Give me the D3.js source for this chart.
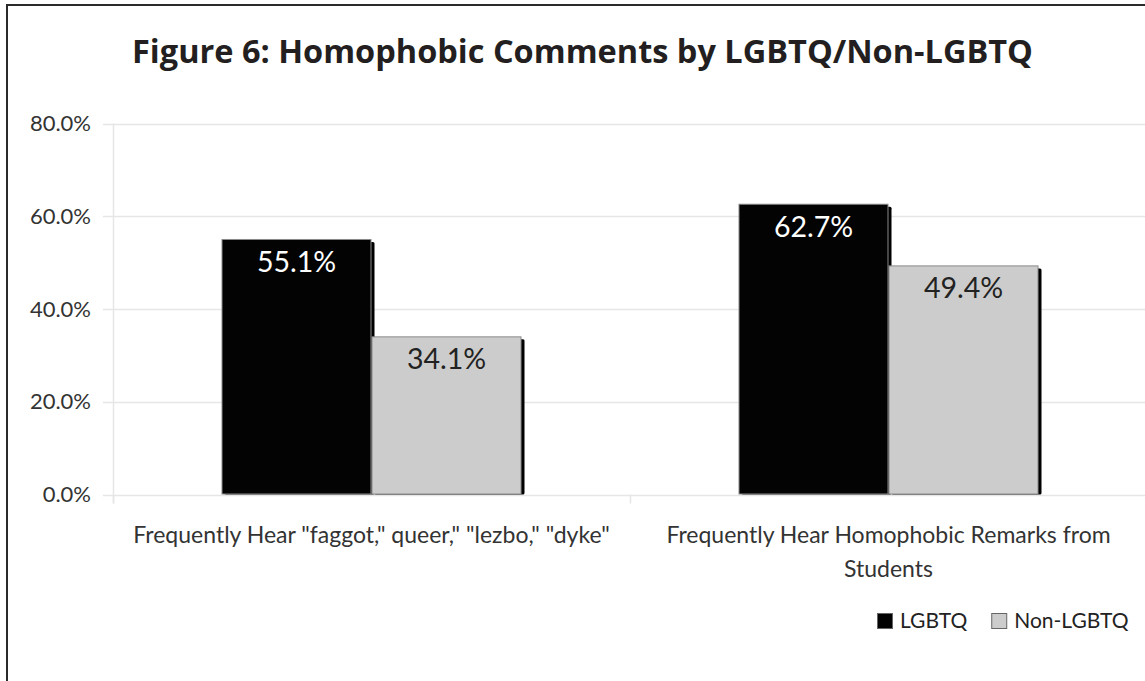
<!DOCTYPE html>
<html>
<head>
<meta charset="utf-8">
<script src="https://cdn.jsdelivr.net/npm/d3@7"></script>
<style>
  html, body { margin: 0; padding: 0; background: #fff; }
  svg { display: block; }
</style>
</head>
<body>
<svg id="chart" width="1145" height="681"></svg>
<script>
// ---- data ----
const title = "Figure 6: Homophobic Comments by LGBTQ/Non-LGBTQ";
const categories = [
  "Frequently Hear \"faggot,\" queer,\" \"lezbo,\" \"dyke\"",
  "Frequently Hear Homophobic Remarks from Students"
];
const seriesNames = ["LGBTQ", "Non-LGBTQ"];
const lgbtqValues = [55.1, 62.7];
const nonLgbtqValues = [34.1, 49.4];
const yTicks = [0, 20, 40, 60, 80];
const seriesColors = ["#030304", "#cccccc"];
const labelColors = ["#ffffff", "#222222"];

// ---- layout ----
const svg = d3.select("#chart");
const W = 1145, H = 681;
const plot = { left: 113, right: 1147, top: 123.5, bottom: 494.5 };
const font = "Lato, 'Open Sans', sans-serif";

// frame
svg.append("rect")
  .attr("x", 7).attr("y", 5)
  .attr("width", W + 20).attr("height", H + 20)
  .attr("fill", "#fff").attr("stroke", "#2a2a2a").attr("stroke-width", 2);

// title
svg.append("text")
  .attr("x", 582.5).attr("y", 63)
  .attr("text-anchor", "middle")
  .attr("font-family", "'Open Sans', sans-serif")
  .attr("font-weight", 700)
  .attr("font-size", 32.5)
  .attr("fill", "#231f20")
  .text(title);

const y = d3.scaleLinear().domain([0, 80]).range([plot.bottom, plot.top]);
const x0 = d3.scaleBand().domain(categories).range([plot.left, plot.right]).padding(0);
const groupW = 300;
const x1 = d3.scaleBand().domain(seriesNames).range([0, groupW]);

// gridlines
svg.append("g").selectAll("line").data(yTicks).join("line")
  .attr("x1", plot.left - 10).attr("x2", plot.right)
  .attr("y1", d => Math.round(y(d)) + 0.5).attr("y2", d => Math.round(y(d)) + 0.5)
  .attr("stroke", "#e6e6e6").attr("stroke-width", 1.5);

// y axis line
svg.append("line")
  .attr("x1", plot.left + 0.5).attr("x2", plot.left + 0.5)
  .attr("y1", plot.top).attr("y2", plot.bottom + 9)
  .attr("stroke", "#e6e6e6").attr("stroke-width", 1.5);

// category separator ticks
const sepX = [plot.left, ...categories.map(c => x0(c) + x0.bandwidth())];
svg.append("g").selectAll("line").data(sepX).join("line")
  .attr("x1", d => d + 0.5).attr("x2", d => d + 0.5)
  .attr("y1", plot.bottom).attr("y2", plot.bottom + 9)
  .attr("stroke", "#e6e6e6").attr("stroke-width", 1.5);

// y tick labels
svg.append("g").selectAll("text").data(yTicks).join("text")
  .attr("x", 91).attr("y", d => y(d))
  .attr("dy", "0.35em")
  .attr("text-anchor", "end")
  .attr("font-family", font).attr("font-size", 22)
  .attr("fill", "#333")
  .text(d => d.toFixed(1) + "%");

// bars
const rows = categories.map((c, i) => ({
  cat: c,
  vals: [
    { s: seriesNames[0], v: lgbtqValues[i], k: 0 },
    { s: seriesNames[1], v: nonLgbtqValues[i], k: 1 }
  ]
}));

const groups = svg.append("g").selectAll("g").data(rows).join("g")
  .attr("transform", d => `translate(${x0(d.cat) + (x0.bandwidth() - groupW) / 2},0)`);

// shadows
groups.selectAll("rect.shadow").data(d => d.vals).join("rect")
  .attr("class", "shadow")
  .attr("x", d => x1(d.s) + 3)
  .attr("y", d => y(d.v) + 3)
  .attr("width", x1.bandwidth())
  .attr("height", d => y(0) - y(d.v) - 3)
  .attr("rx", 1.5)
  .attr("fill", "#000");

groups.selectAll("rect.bar").data(d => d.vals).join("rect")
  .attr("class", "bar")
  .attr("x", d => x1(d.s) + 0.5)
  .attr("y", d => y(d.v) + 0.5)
  .attr("width", x1.bandwidth() - 1)
  .attr("height", d => y(0) - y(d.v) - 1)
  .attr("fill", d => seriesColors[d.k])
  .attr("stroke", "#8a8a8a").attr("stroke-width", 1);

// value labels
groups.selectAll("text.val").data(d => d.vals).join("text")
  .attr("class", "val")
  .attr("x", d => x1(d.s) + x1.bandwidth() / 2)
  .attr("y", d => y(d.v) + 33)
  .attr("text-anchor", "middle")
  .attr("font-family", font).attr("font-size", 28.5)
  .attr("fill", d => labelColors[d.k])
  .text(d => d.v.toFixed(1) + "%");

// category labels (wrapped)
const wrapW = 505;
const catG = svg.append("g");
categories.forEach(c => {
  const cx = x0(c) + x0.bandwidth() / 2;
  const t = catG.append("text")
    .attr("x", cx).attr("y", 543)
    .attr("text-anchor", "middle")
    .attr("font-family", font).attr("font-size", 23)
    .attr("fill", "#333");
  const words = c.split(" ");
  let line = [];
  let tspan = t.append("tspan").attr("x", cx).attr("dy", 0);
  words.forEach(w => {
    line.push(w);
    tspan.text(line.join(" "));
    if (tspan.node().getComputedTextLength() > wrapW && line.length > 1) {
      line.pop();
      tspan.text(line.join(" "));
      line = [w];
      tspan = t.append("tspan").attr("x", cx).attr("dy", 34).text(w);
    }
  });
});

// legend
const leg = svg.append("g");
let lx = 877;
seriesNames.forEach((s, i) => {
  leg.append("rect")
    .attr("x", lx + 0.5).attr("y", 613.5)
    .attr("width", 15).attr("height", 15)
    .attr("fill", seriesColors[i])
    .attr("stroke", "#666").attr("stroke-width", 1);
  const t = leg.append("text")
    .attr("x", lx + 23).attr("y", 628)
    .attr("font-family", font).attr("font-size", 21)
    .attr("fill", "#222")
    .text(s);
  lx = lx + 23 + t.node().getComputedTextLength() + 24;
});
</script>
</body>
</html>
